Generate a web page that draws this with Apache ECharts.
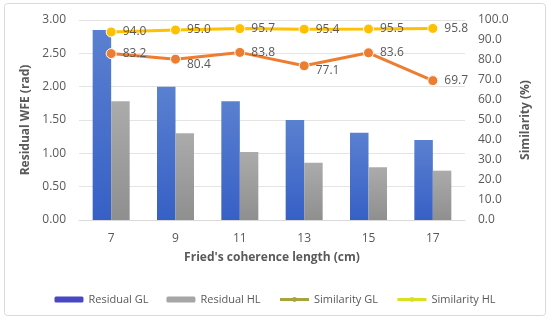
<!DOCTYPE html>
<html><head><meta charset="utf-8">
<script src="https://cdn.jsdelivr.net/npm/echarts@6/dist/echarts.min.js"></script>
<style>html,body{margin:0;padding:0;background:#fff}#c{width:550px;height:321px}</style>
</head><body><div id="c"></div>
<script>
var categories = ['7','9','11','13','15','17'];
var residualGL = [2.85, 2.00, 1.78, 1.50, 1.31, 1.20];
var residualHL = [1.78, 1.30, 1.02, 0.86, 0.79, 0.74];
var similarityGL = [83.2, 80.4, 83.8, 77.1, 83.6, 69.7];
var similarityHL = [94.0, 95.0, 95.7, 95.4, 95.5, 95.8];
var leftTicks = [0, 0.5, 1, 1.5, 2, 2.5, 3];
var rightTicks = [0,10,20,30,40,50,60,70,80,90,100];

var font = 'Open Sans';
var txt = '#595959';
var chart = echarts.init(document.getElementById('c'));
function lbl(v, i, below){
  return {value: v, label: below.indexOf(i) >= 0 ? {offset:[0,5]} : {}};
}
chart.setOption({
  animation: false,
  textStyle: {fontFamily: font},
  graphic: [{type:'rect', shape:{x:4.5,y:3.5,width:541,height:312,r:3}, style:{fill:'none', stroke:'#D9D9D9', lineWidth:1}}],
  grid: {left: 79, right: 85, top: 20, bottom: 101},
  legend: {
    top: 289, left: 'center', itemGap: 18, itemWidth: 29, itemHeight: 6,
    textStyle: {color: txt, fontSize: 11, fontFamily: font},
    data: [
      {name:'Residual GL', itemStyle:{color:'#4848C4'}},
      {name:'Residual HL', itemStyle:{color:'#A6A6A6'}},
      {name:'Similarity GL', itemStyle:{color:'#A8A43C', borderWidth:0}, lineStyle:{color:'#A8A43C', width:3}},
      {name:'Similarity HL', itemStyle:{color:'#D8E020', borderWidth:0}, lineStyle:{color:'#D8E020', width:3}}
    ]
  },
  xAxis: {
    type: 'category', data: categories,
    name: "Fried's coherence length (cm)", nameLocation: 'middle', nameGap: 32,
    nameTextStyle: {color: txt, fontWeight: 'bold', fontSize: 12},
    axisLine: {lineStyle: {color: '#D9D9D9'}}, axisTick: {show: false},
    axisLabel: {color: txt, fontSize: 12, margin: 13}
  },
  yAxis: [{
    type: 'value', min: 0, max: 3, interval: 0.5,
    name: 'Residual WFE (rad)', nameLocation: 'middle', nameGap: 41,
    nameTextStyle: {color: txt, fontWeight: 'bold', fontSize: 12},
    axisLabel: {color: txt, fontSize: 12, margin: 13, formatter: function(v){return v.toFixed(2);}},
    splitLine: {lineStyle: {color: '#E4E4E4'}},
    axisLine: {show:false}, axisTick: {show:false}
  },{
    type: 'value', min: 0, max: 100, interval: 10,
    name: 'Similarity (%)', nameLocation: 'middle', nameGap: 53, nameRotate: 90,
    nameTextStyle: {color: txt, fontWeight: 'bold', fontSize: 12},
    axisLabel: {color: txt, fontSize: 12, margin: 13, formatter: function(v){return v.toFixed(1);}},
    splitLine: {show:false}, axisLine: {show:false}, axisTick: {show:false}
  }],
  series: [{
    name: 'Residual GL', type: 'bar', data: residualGL, barWidth: 18.5, barGap: '0%',
    itemStyle: {color: new echarts.graphic.LinearGradient(0,0,0,1,[{offset:0,color:'#5A80D0'},{offset:1,color:'#3760C6'}])}
  },{
    name: 'Residual HL', type: 'bar', data: residualHL, barWidth: 18.5,
    itemStyle: {color: new echarts.graphic.LinearGradient(0,0,0,1,[{offset:0,color:'#ABABAB'},{offset:1,color:'#8F8F8F'}])}
  },{
    name: 'Similarity GL', type: 'line', yAxisIndex: 1,
    data: similarityGL.map(function(v,i){return lbl(v,i,[1,3]);}),
    symbol: 'circle', symbolSize: 10, lineStyle: {width: 3, color: '#ED7D31'},
    itemStyle: {color: '#ED7D31', borderColor: '#fff', borderWidth: 1},
    label: {show: true, position: 'right', distance: 6, color: txt, fontSize: 12, formatter: function(p){return p.value.toFixed(1);}}
  },{
    name: 'Similarity HL', type: 'line', yAxisIndex: 1,
    data: similarityHL.map(function(v,i){return lbl(v,i,[]);}),
    symbol: 'circle', symbolSize: 10, lineStyle: {width: 3, color: '#FFC000'},
    itemStyle: {color: '#FFC000', borderColor: '#fff', borderWidth: 1},
    label: {show: true, position: 'right', distance: 6, color: txt, fontSize: 12, formatter: function(p){return p.value.toFixed(1);}}
  }]
});
</script></body></html>
